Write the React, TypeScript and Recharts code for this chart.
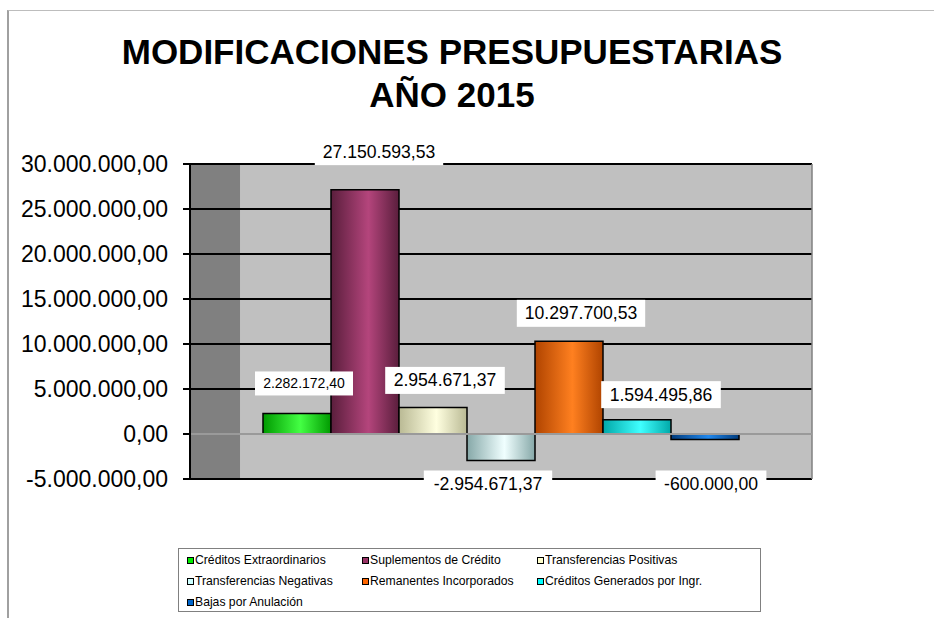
import React from "react";
import {
  BarChart,
  Bar,
  XAxis,
  YAxis,
  CartesianGrid,
  ReferenceLine,
  LabelList,
} from "recharts";

const TITLE_LINES = ["MODIFICACIONES PRESUPUESTARIAS", "AÑO 2015"];
const CATEGORY = ["2015"];
const SERIES_KEYS = ["ce", "sc", "tp", "tn", "ri", "cg", "ba"];
const SERIES_NAMES = [
  "Créditos Extraordinarios",
  "Suplementos de Crédito",
  "Transferencias Positivas",
  "Transferencias Negativas",
  "Remanentes Incorporados",
  "Créditos Generados por Ingr.",
  "Bajas por Anulación",
];
const SERIES_VALUES = [
  2282172.4, 27150593.53, 2954671.37, -2954671.37, 10297700.53, 1594495.86, -600000.0,
];
const Y_DOMAIN: [number, number] = [-5000000, 30000000];
const Y_TICKS = [-5000000, 0, 5000000, 10000000, 15000000, 20000000, 25000000, 30000000];

// styles
const BASE_COLORS = ["#00ee00", "#993366", "#ffffcc", "#ccffff", "#ff6600", "#00ffff", "#0066cc"];
const EDGE_COLORS = ["#009a00", "#5a1e3c", "#b9b994", "#86a8a8", "#b04400", "#00a8a8", "#003a7a"];
const LIGHT_COLORS = ["#44ff44", "#b4457c", "#ffffe0", "#f0ffff", "#ff8020", "#40ffff", "#2088ee"];
const LABEL_DX = [7, 14, 12, -13, 12, 24, 6];
const LABEL_DY = [-30, -38, -27, 0, -28, -25, 0];
const LABEL_FONT = [14, 17.6, 17.6, 17.6, 17.6, 17.6, 17.6];
const FONT = '"Liberation Sans", Arial, Helvetica, sans-serif';
const WALL_FRACTION = 0.0804;

const fmt = (v: number) => {
  const sign = v < 0 ? "-" : "";
  const [i, d] = Math.abs(v).toFixed(2).split(".");
  return sign + i.replace(/\B(?=(\d{3})+(?!\d))/g, ".") + "," + d;
};

const data = CATEGORY.map((name) => {
  const row: Record<string, any> = { name, wall: 0 };
  SERIES_KEYS.forEach((k, i) => (row[k] = SERIES_VALUES[i]));
  return row;
});

const valueToY = (p: any, v: number) =>
  p.y + (p.height * (Y_DOMAIN[1] - v)) / (Y_DOMAIN[1] - Y_DOMAIN[0]);

// custom grid line renderer: the first call also paints the dark side wall with its lines
const gridLine = (p: any) => {
  const isZero = Math.abs(p.y1 - valueToY(p, 0)) < 1;
  const first = p.index === 0 || p.index === undefined;
  const wallW = p.width * WALL_FRACTION;
  return (
    <g key={`gl-${p.index}-${p.y1}`}>
      {first && (
        <g>
          <rect x={p.x} y={p.y} width={wallW} height={p.height} fill="#808080" />
          {Y_TICKS.map((t) => (
            <line
              key={t}
              x1={p.x}
              x2={p.x + wallW}
              y1={valueToY(p, t)}
              y2={valueToY(p, t)}
              stroke={t === 0 ? "#9a9a9a" : "#000"}
              strokeWidth={2}
            />
          ))}
        </g>
      )}
      <line
        x1={p.x1}
        y1={p.y1}
        x2={p.x2}
        y2={p.y2}
        stroke={isZero ? "#9a9a9a" : "#000"}
        strokeWidth={2}
      />
    </g>
  );
};

const makeLabel = (idx: number) => (props: any) => {
  const { x, y, width, height, value } = props;
  const v = Number(value);
  const top = Math.min(y, y + height);
  const fs = LABEL_FONT[idx];
  const text = fmt(v);
  const approxW = text.length * fs * 0.5;
  const boxW = approxW + 14;
  const boxH = fs < 15 ? 24 : 27;
  const cx = x + width / 2 + LABEL_DX[idx];
  let cy: number;
  if (v >= 0) {
    cy = top + LABEL_DY[idx];
  } else {
    const pxPerUnit = Math.abs(height) / Math.abs(v);
    cy = top + -Y_DOMAIN[0] * pxPerUnit + 5;
  }
  return (
    <g>
      <rect x={cx - boxW / 2} y={cy - boxH / 2} width={boxW} height={boxH} fill="#ffffff" />
      <text
        x={cx}
        y={cy}
        textAnchor="middle"
        dominantBaseline="central"
        fontSize={fs}
        fontFamily={FONT}
        fill="#000"
      >
        {text}
      </text>
    </g>
  );
};

const Legend = () => (
  <div
    style={{
      position: "absolute",
      left: 178,
      top: 548,
      width: 583,
      height: 64,
      border: "1px solid #808080",
      boxSizing: "border-box",
      fontFamily: FONT,
      fontSize: 12.2,
      background: "#fff",
    }}
  >
    {SERIES_NAMES.map((n, i) => (
      <div
        key={n}
        style={{
          position: "absolute",
          left: 8 + (i % 3) * 175,
          top: 1 + Math.floor(i / 3) * 21,
          height: 20,
          display: "flex",
          alignItems: "center",
          whiteSpace: "nowrap",
        }}
      >
        <span
          style={{
            display: "inline-block",
            width: 5,
            height: 5,
            border: "1.5px solid #000",
            background: BASE_COLORS[i],
            marginRight: 1,
          }}
        />
        <span>{n}</span>
      </div>
    ))}
  </div>
);

export default function App() {
  return (
    <div
      style={{
        position: "absolute",
        left: 0,
        top: 0,
        width: 934,
        height: 618,
        background: "#fff",
        overflow: "hidden",
      }}
    >
      <div
        style={{
          position: "absolute",
          left: 7,
          top: 10,
          width: 940,
          height: 620,
          borderTop: "1px solid #bdbdbd",
          borderLeft: "2px solid #a0a0a0",
        }}
      />
      {TITLE_LINES.map((t, i) => (
        <div
          key={t}
          style={{
            position: "absolute",
            left: 0,
            width: 904,
            top: 30 + i * 43,
            lineHeight: "43px",
            textAlign: "center",
            fontFamily: FONT,
            fontWeight: "bold",
            fontSize: 35,
            color: "#000",
          }}
        >
          {t}
        </div>
      ))}
      <div style={{ position: "absolute", left: 0, top: 0 }}>
        <BarChart
          width={934}
          height={618}
          data={data}
          margin={{ top: 164, right: 122, bottom: 139, left: 0 }}
          barSize={68}
          barGap={0}
        >
          <defs>
            {SERIES_KEYS.map((k, i) => (
              <linearGradient key={k} id={`grad-${k}`} x1="0" y1="0" x2="1" y2="0">
                <stop offset="0%" stopColor={EDGE_COLORS[i]} />
                <stop offset="55%" stopColor={LIGHT_COLORS[i]} />
                <stop offset="100%" stopColor={EDGE_COLORS[i]} />
              </linearGradient>
            ))}
          </defs>
          <CartesianGrid
            vertical={false}
            horizontal={gridLine}
            stroke="#000"
            strokeWidth={2}
            fill="#c0c0c0"
            fillOpacity={1}
          />
          <XAxis dataKey="name" hide />
          <XAxis
            xAxisId="wall"
            dataKey="wall"
            type="number"
            domain={[0, 1]}
            allowDataOverflow
            hide
          />
          <YAxis
            width={190}
            domain={Y_DOMAIN}
            ticks={Y_TICKS}
            interval={0}
            tickFormatter={fmt}
            tick={{ fontSize: 23, fontFamily: FONT, fill: "#000" }}
            tickSize={7}
            tickMargin={15}
            tickLine={{ stroke: "#000", strokeWidth: 2 }}
            axisLine={{ stroke: "#000", strokeWidth: 2 }}
          />
          <ReferenceLine xAxisId="wall" x={1} stroke="#808080" strokeWidth={1.5} ifOverflow="visible" />
          <ReferenceLine y={0} stroke="#9a9a9a" strokeWidth={2} />
          {SERIES_KEYS.map((k, i) => (
            <Bar
              key={k}
              dataKey={k}
              name={SERIES_NAMES[i]}
              fill={`url(#grad-${k})`}
              stroke="#000"
              strokeWidth={1.5}
              isAnimationActive={false}
            >
              <LabelList dataKey={k} content={makeLabel(i)} />
            </Bar>
          ))}
        </BarChart>
      </div>
      <Legend />
    </div>
  );
}
